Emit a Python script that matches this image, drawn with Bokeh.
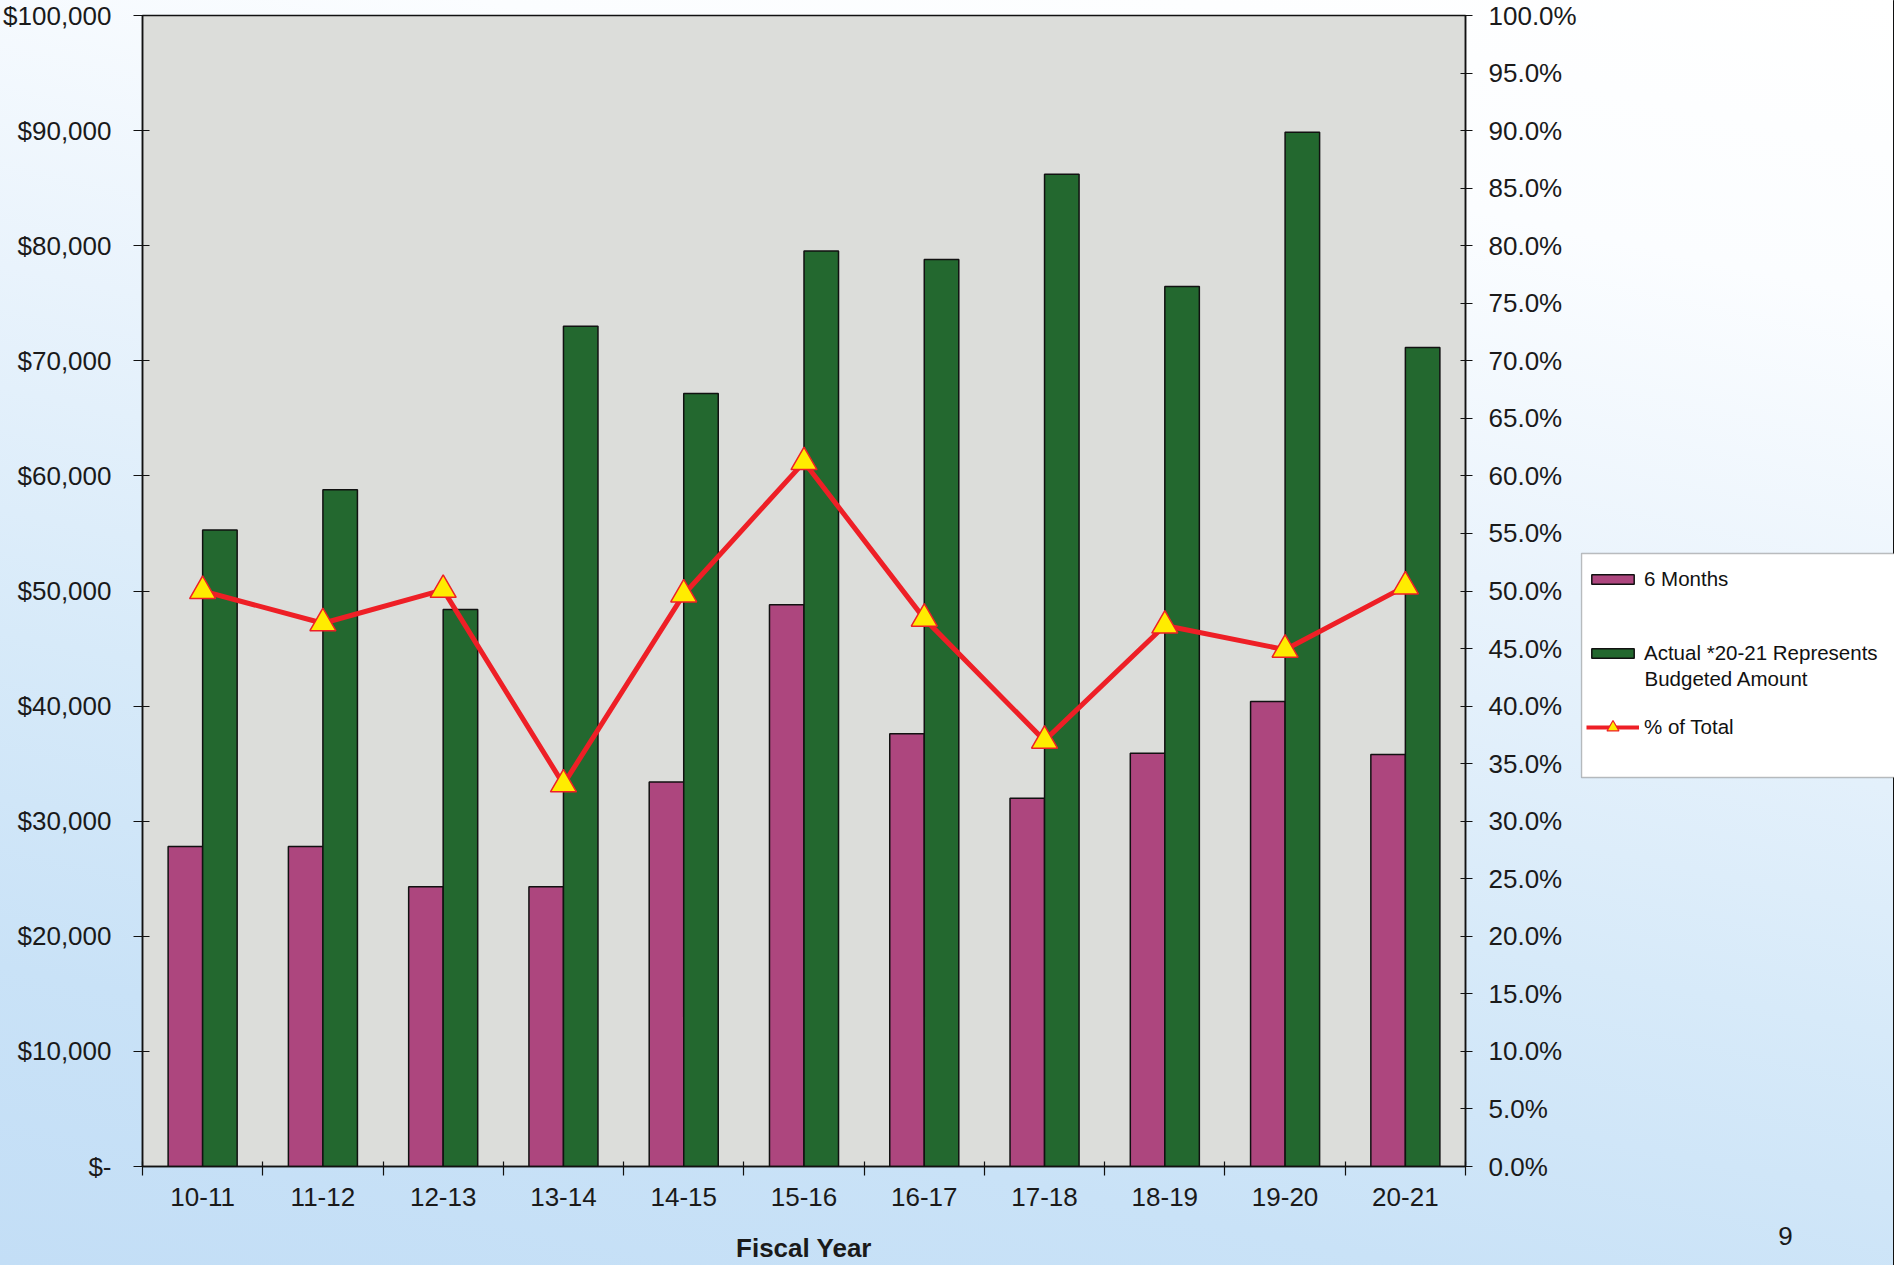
from bokeh.plotting import figure
from bokeh.layouts import row
from bokeh.models import (ColumnDataSource, Range1d, LinearAxis, FixedTicker,
                          Legend, LegendItem, Label, BoxAnnotation)
from bokeh.embed import file_html
from bokeh.resources import INLINE

# ---- data -------------------------------------------------------------
fiscal_years = ["10-11", "11-12", "12-13", "13-14", "14-15", "15-16",
                "16-17", "17-18", "18-19", "19-20", "20-21"]
six_months = [27800, 27800, 24300, 24300, 33400, 48800,
              37600, 32000, 35900, 40400, 35800]
actual = [55300, 58800, 48400, 73000, 67150, 79550,
          78800, 86200, 76450, 89850, 71150]
pct_of_total = [50.0, 47.2, 50.1, 33.2, 49.7, 61.2,
                47.6, 37.0, 47.0, 44.9, 50.4]

dollar_ticks = [0, 10000, 20000, 30000, 40000, 50000,
                60000, 70000, 80000, 90000, 100000]
dollar_labels = ["$-", "$10,000", "$20,000", "$30,000", "$40,000", "$50,000",
                 "$60,000", "$70,000", "$80,000", "$90,000", "$100,000"]
pct_ticks = [0, 5, 10, 15, 20, 25, 30, 35, 40, 45, 50,
             55, 60, 65, 70, 75, 80, 85, 90, 95, 100]
pct_labels = ["0.0%", "5.0%", "10.0%", "15.0%", "20.0%", "25.0%", "30.0%",
              "35.0%", "40.0%", "45.0%", "50.0%", "55.0%", "60.0%", "65.0%",
              "70.0%", "75.0%", "80.0%", "85.0%", "90.0%", "95.0%", "100.0%"]

# ---- styling ------------------------------------------------------------
FONT = "Liberation Sans"
MAGENTA = "#ad467e"
GREEN = "#23682f"
RED = "#ee1f26"
YELLOW = "#ffec00"
PLOT_GREY = "#dcddda"
INK = "#111111"

PAGE_W, PAGE_H = 1894, 1265
MAIN_W = 1580
SIDE_W = PAGE_W - MAIN_W

n = len(fiscal_years)
centers = [i + 0.5 for i in range(n)]
bar_w = 0.287

src = ColumnDataSource(dict(
    x=centers,
    x_six=[c - bar_w / 2 for c in centers],
    x_act=[c + bar_w / 2 for c in centers],
    six=six_months,
    act=actual,
    pct=pct_of_total,
))

# ---- main chart ---------------------------------------------------------
p = figure(width=MAIN_W, height=PAGE_H, output_backend="svg", toolbar_location=None,
           x_range=Range1d(0, n), y_range=Range1d(0, 100000),
           min_border_left=141, min_border_right=115,
           min_border_top=15, min_border_bottom=97)
p.frame_align = False
p.extra_y_ranges = {"pct": Range1d(0, 100)}

p.background_fill_color = PLOT_GREY
p.border_fill_alpha = 0
p.outline_line_color = INK
p.outline_line_width = 1.5
p.grid.visible = False

bar_style = dict(line_color=INK, line_width=1.5)
p.vbar(x="x_six", width=bar_w, top="six", bottom=0, source=src,
       fill_color=MAGENTA, **bar_style)
p.vbar(x="x_act", width=bar_w, top="act", bottom=0, source=src,
       fill_color=GREEN, **bar_style)

tri_style = dict(marker="triangle", fill_color=YELLOW, line_color=RED, line_width=1.5)
p.line(x="x", y="pct", source=src, y_range_name="pct", line_color=RED, line_width=5)
p.scatter(x="x", y="pct", source=src, y_range_name="pct", size=26, **tri_style)


def style_axis(ax):
    ax.axis_line_color = INK
    ax.axis_line_width = 1.5
    ax.major_tick_line_color = INK
    ax.major_tick_line_width = 1.2
    ax.minor_tick_line_color = INK
    ax.minor_tick_line_width = 1.2
    ax.major_label_text_font = FONT
    ax.major_label_text_font_size = "26px"
    ax.major_label_text_color = "#1a1a1a"


xa = p.xaxis[0]
style_axis(xa)
xa.ticker = FixedTicker(ticks=centers, minor_ticks=list(range(n + 1)))
xa.major_label_overrides = {c: lbl for c, lbl in zip(centers, fiscal_years)}
xa.major_tick_in = 0
xa.major_tick_out = 0
xa.minor_tick_in = 5
xa.minor_tick_out = 9
xa.major_label_standoff = 12
xa.axis_label = "Fiscal Year"
xa.axis_label_text_font = FONT
xa.axis_label_text_font_size = "26px"
xa.axis_label_text_font_style = "bold"
xa.axis_label_text_color = "#1a1a1a"
xa.axis_label_standoff = 24

ya = p.yaxis[0]
style_axis(ya)
ya.ticker = FixedTicker(ticks=dollar_ticks, minor_ticks=[])
ya.major_label_overrides = dict(zip(dollar_ticks, dollar_labels))
ya.major_tick_in = 7
ya.major_tick_out = 9
ya.major_label_standoff = 22

ra = LinearAxis(y_range_name="pct")
style_axis(ra)
ra.ticker = FixedTicker(ticks=pct_ticks, minor_ticks=[])
ra.major_label_overrides = dict(zip(pct_ticks, pct_labels))
ra.major_tick_in = 5
ra.major_tick_out = 7
ra.major_label_standoff = 16
p.add_layout(ra, "right")

# ---- legend panel (pixel-like coordinates, y downward) ------------------
side = figure(width=SIDE_W, height=PAGE_H, output_backend="svg", toolbar_location=None,
              x_range=Range1d(0, SIDE_W), y_range=Range1d(PAGE_H, 0),
              x_axis_location=None, y_axis_location=None,
              min_border_left=0, min_border_right=0,
              min_border_top=0, min_border_bottom=0)
side.frame_align = False
side.background_fill_alpha = 0
side.border_fill_alpha = 0
side.outline_line_color = None
side.grid.visible = False

# legend entries reuse the chart data on a range that keeps them out of view
side.extra_x_ranges = {"offview": Range1d(-1000, -999)}
lg_six = side.vbar(x="x_six", width=bar_w, top="six", bottom=0, source=src,
                   x_range_name="offview", fill_color=MAGENTA, **bar_style)
lg_act = side.vbar(x="x_act", width=bar_w, top="act", bottom=0, source=src,
                   x_range_name="offview", fill_color=GREEN, **bar_style)
lg_line = side.line(x="x", y="pct", source=src, x_range_name="offview",
                    line_color=RED, line_width=4)
lg_tri = side.scatter(x="x", y="pct", source=src, x_range_name="offview",
                      size=14, marker="triangle", fill_color=YELLOW,
                      line_color=RED, line_width=1.2)

side.add_layout(BoxAnnotation(left=1, right=SIDE_W + 10, top=553, bottom=777,
                              fill_color="white", fill_alpha=1.0,
                              line_color="#2a2a2a", line_width=1.5))

legend_text = dict(label_text_font=FONT, label_text_font_size="20.5px",
                   label_text_color=INK, label_standoff=5, padding=0, margin=0,
                   background_fill_alpha=0, border_line_alpha=0,
                   orientation="vertical", glyph_width=53)

bars_legend = Legend(items=[
    LegendItem(label="6 Months", renderers=[lg_six]),
    LegendItem(label="Actual *20-21 Represents", renderers=[lg_act]),
], location=(6, PAGE_H - 665), glyph_height=12, label_height=24, spacing=50,
    **legend_text)
side.add_layout(bars_legend, "center")

line_legend = Legend(items=[
    LegendItem(label="% of Total", renderers=[lg_line, lg_tri]),
], location=(6, PAGE_H - 742), glyph_height=30, label_height=30, spacing=0,
    **legend_text)
side.add_layout(line_legend, "center")

side.add_layout(Label(x=64, y=678, text="Budgeted Amount", text_font=FONT,
                      text_font_size="20.5px", text_color=INK,
                      text_baseline="middle", text_align="left"))

# page number
side.add_layout(Label(x=205, y=1235, text="9", text_font=FONT,
                      text_font_size="26px", text_color="#1a1a1a",
                      text_baseline="middle", text_align="center"))

page = row(p, side, spacing=0,
           styles={"background": "linear-gradient(192deg, #ffffff 0%, #fbfdff 18%, "
                                 "#e9f3fc 40%, #d7eaf9 62%, #c9e2f7 82%, #c3def6 100%)"})

open("out.html", "w").write(file_html(page, INLINE))
